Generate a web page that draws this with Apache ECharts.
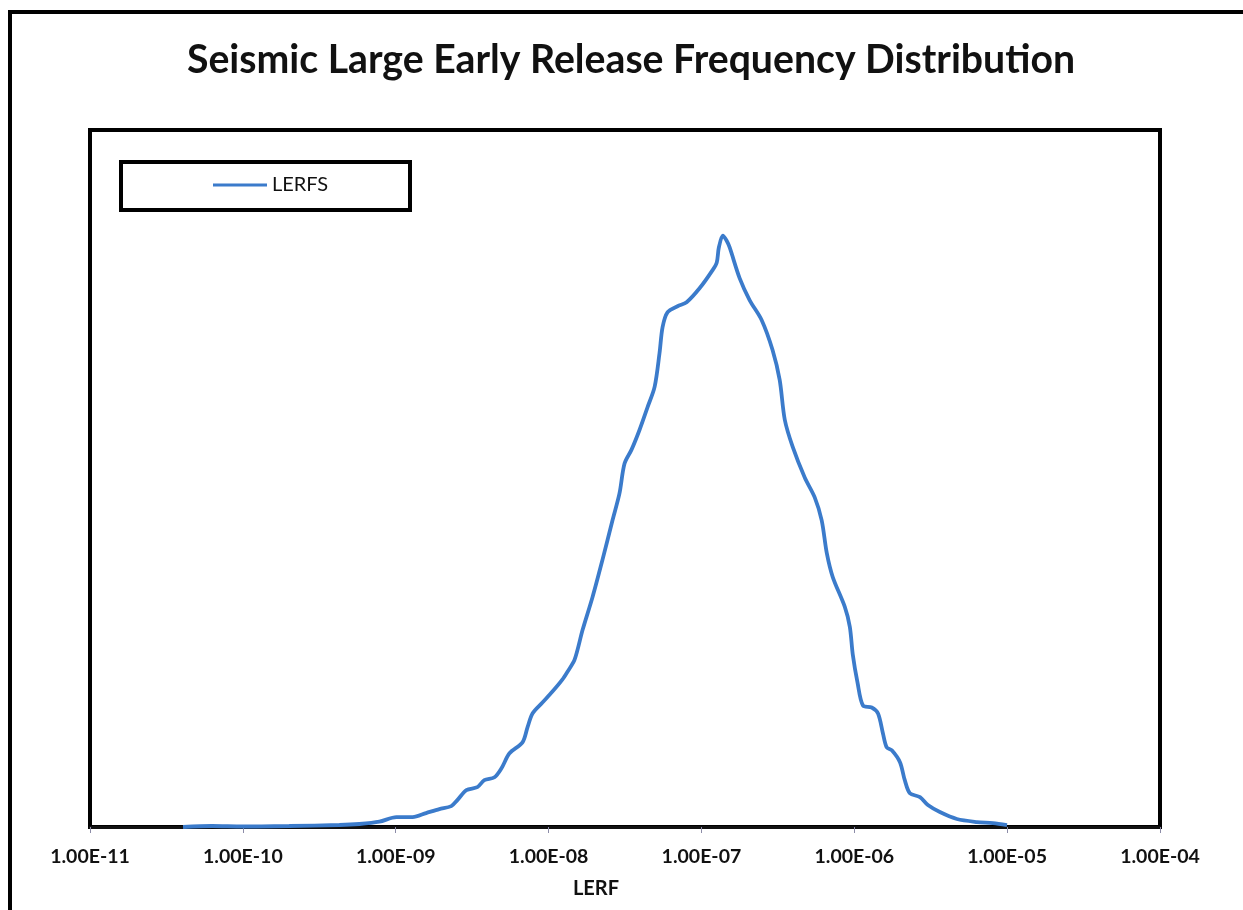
<!DOCTYPE html>
<html>
<head>
<meta charset="utf-8">
<title>Seismic Large Early Release Frequency Distribution</title>
<script src="https://cdn.jsdelivr.net/npm/echarts@6/dist/echarts.min.js"></script>
<style>
  html, body { margin: 0; padding: 0; background: #ffffff; }
  #chart { width: 1243px; height: 910px; }
</style>
</head>
<body>
<div id="chart"></div>
<script>
// LERF bin values (per reactor-year)
const lerf = [
  4.06e-11, 6.29e-11, 1.00e-10, 2.01e-10, 4.28e-10, 5.78e-10, 7.82e-10, 1.01e-9,
  1.29e-9, 1.58e-9, 1.93e-9, 2.31e-9, 2.53e-9, 2.90e-9, 3.42e-9, 3.80e-9,
  4.43e-9, 4.92e-9, 5.55e-9, 6.75e-9, 7.28e-9, 7.85e-9, 9.12e-9, 1.06e-8,
  1.23e-8, 1.33e-8, 1.48e-8, 1.67e-8, 1.94e-8, 2.25e-8, 2.62e-8, 2.91e-8,
  3.14e-8, 3.49e-8, 3.94e-8, 4.45e-8, 4.94e-8, 5.32e-8, 5.57e-8, 6.01e-8,
  6.98e-8, 8.00e-8, 9.72e-8, 1.18e-7, 1.26e-7, 1.30e-7, 1.38e-7, 1.46e-7,
  1.53e-7, 1.78e-7, 2.07e-7, 2.48e-7, 2.92e-7, 3.25e-7, 3.51e-7, 3.95e-7,
  4.74e-7, 5.51e-7, 6.12e-7, 6.61e-7, 7.23e-7, 8.67e-7, 9.35e-7, 9.78e-7,
  1.05e-6, 1.14e-6, 1.30e-6, 1.43e-6, 1.54e-6, 1.63e-6, 1.76e-6, 1.99e-6,
  2.14e-6, 2.31e-6, 2.69e-6, 3.03e-6, 3.63e-6, 4.69e-6, 6.34e-6, 8.07e-6,
  9.98e-6
];

// Relative frequency (%) of samples in each bin
const lerfsFreq = [
  0.00, 0.01, 0.005, 0.01, 0.02, 0.03, 0.053, 0.10,
  0.10, 0.14, 0.18, 0.21, 0.27, 0.37, 0.40, 0.47,
  0.50, 0.59, 0.74, 0.85, 1.00, 1.14, 1.25, 1.36,
  1.48, 1.56, 1.68, 1.98, 2.31, 2.68, 3.08, 3.35,
  3.65, 3.79, 3.99, 4.22, 4.42, 4.76, 5.02, 5.17,
  5.23, 5.27, 5.41, 5.59, 5.67, 5.82, 5.94, 5.89,
  5.82, 5.51, 5.29, 5.09, 4.79, 4.49, 4.09, 3.82,
  3.51, 3.31, 3.08, 2.75, 2.51, 2.21, 2.01, 1.73,
  1.45, 1.22, 1.20, 1.14, 0.94, 0.80, 0.77, 0.65,
  0.47, 0.34, 0.30, 0.22, 0.15, 0.08, 0.05, 0.04,
  0.02
];

// Decade tick labels for the LERF axis
const tickLabels = [
  '1.00E-11', '1.00E-10', '1.00E-09', '1.00E-08',
  '1.00E-07', '1.00E-06', '1.00E-05', '1.00E-04'
];
const firstExponent = -11;

const seriesName = 'LERFS';
const chartTitle = 'Seismic Large Early Release Frequency Distribution';
const axisName = 'LERF';

const chart = echarts.init(document.getElementById('chart'), null, { renderer: 'canvas' });

const font = 'Lato, "Open Sans", sans-serif';

chart.setOption({
  backgroundColor: '#ffffff',
  animation: false,
  title: {
    text: chartTitle,
    left: 182,
    top: 36,
    textStyle: { fontFamily: font, fontWeight: 'bold', fontSize: 39.2, color: '#111' }
  },
  legend: {
    left: 213,
    top: 175,
    padding: 0,
    itemWidth: 54,
    itemHeight: 14,
    itemGap: 10,
    textStyle: { fontFamily: font, fontSize: 20, color: '#111' },
    data: [{ name: seriesName, icon: 'path://M0,6 L54,6 L54,9 L0,9 Z' }],
    z: 10
  },
  graphic: [
    {
      type: 'rect',
      z: 5,
      shape: { x: 10, y: 12, width: 1300, height: 1000 },
      style: { fill: 'none', stroke: '#000', lineWidth: 4 }
    },
    {
      type: 'rect',
      z: 5,
      shape: { x: 121, y: 162, width: 289, height: 48 },
      style: { fill: '#fff', stroke: '#000', lineWidth: 4 }
    }
  ],
  grid: {
    left: 90,
    right: 83,
    top: 130,
    bottom: 83,
    show: true,
    borderColor: '#000',
    borderWidth: 4,
    backgroundColor: '#fff'
  },
  xAxis: {
    type: 'log',
    logBase: 10,
    min: 1e-11,
    max: 1e-4,
    name: axisName,
    nameLocation: 'middle',
    nameGap: 52,
    nameTextStyle: {
      fontFamily: font, fontWeight: 'bold', fontSize: 20, color: '#111',
      padding: [0, 58, 0, 0]
    },
    axisLine: { show: true, lineStyle: { color: '#111', width: 3 } },
    axisTick: { show: true, inside: false, length: 6, lineStyle: { color: '#8c8ca8', width: 1 } },
    minorTick: { show: false },
    splitLine: { show: false },
    axisLabel: {
      margin: 20,
      fontFamily: font,
      fontWeight: 'bold',
      fontSize: 19.5,
      color: '#111',
      formatter: function (v) {
        const e = Math.round(Math.log10(v));
        return tickLabels[e - firstExponent] || '';
      }
    }
  },
  yAxis: {
    type: 'value',
    min: 0,
    max: 7,
    show: false,
    splitLine: { show: false }
  },
  series: [{
    name: seriesName,
    type: 'line',
    data: lerf.map((x, i) => [x, lerfsFreq[i]]),
    showSymbol: false,
    symbol: 'none',
    smooth: 0.3,
    lineStyle: { color: '#3b7bcb', width: 3.8 },
    itemStyle: { color: '#3b7bcb' },
    z: 3
  }]
});
</script>
</body>
</html>
